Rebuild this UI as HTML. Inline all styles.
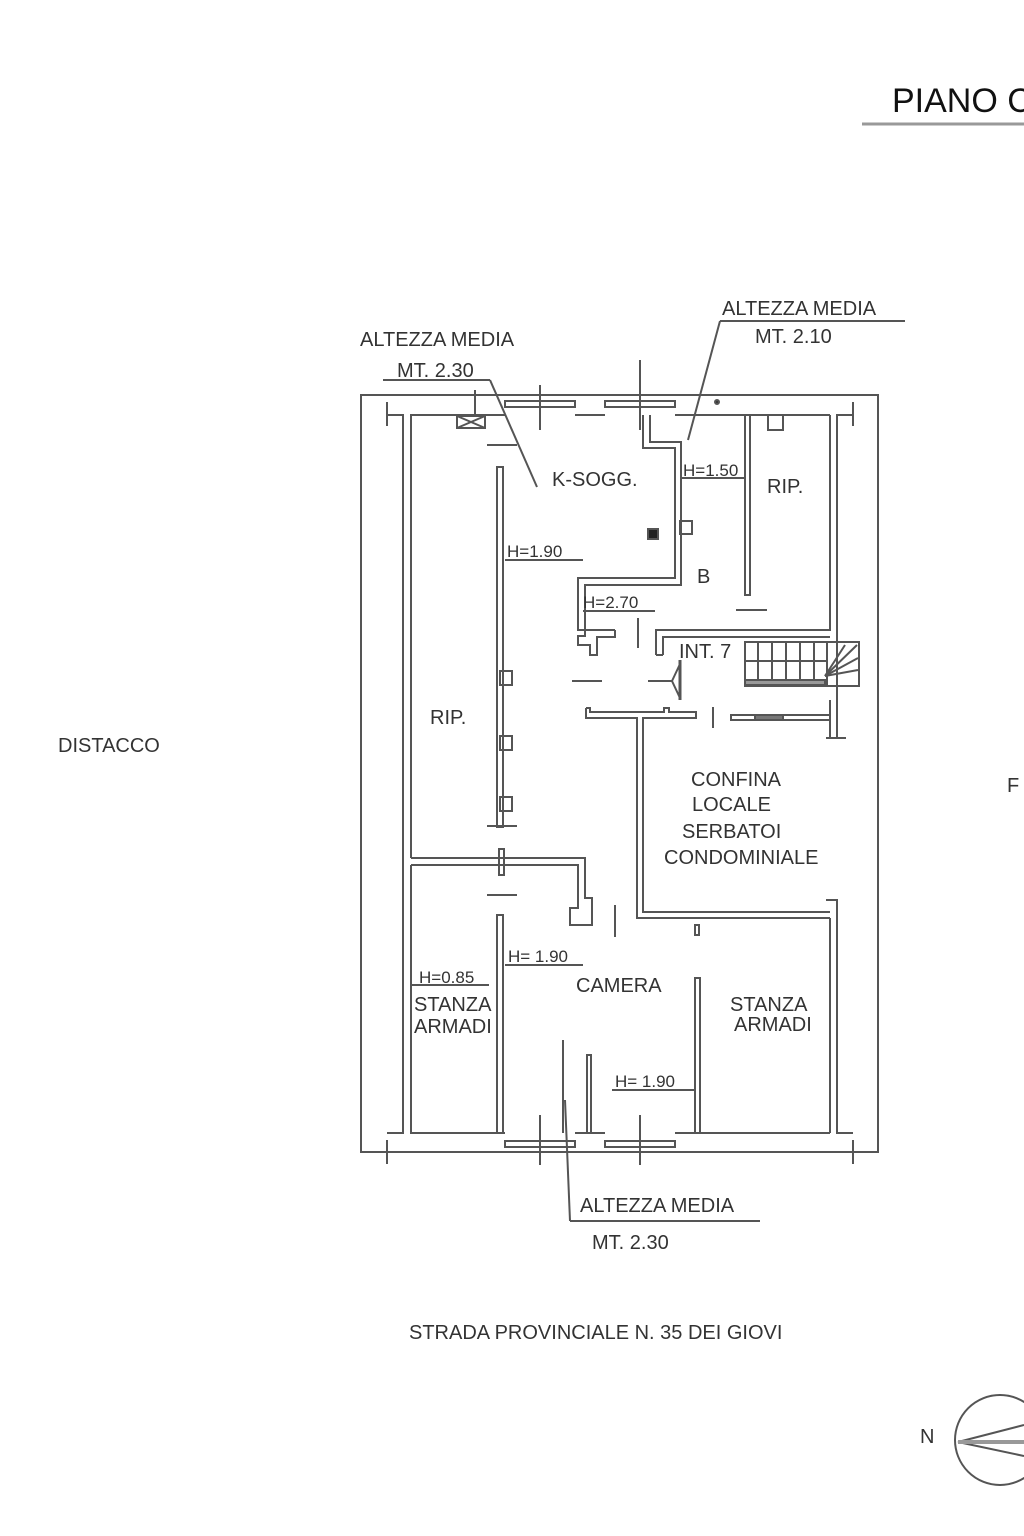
<!DOCTYPE html>
<html><head><meta charset="utf-8"><style>
html,body{margin:0;padding:0;background:#fff;}
svg{display:block}
text{font-family:"Liberation Sans",sans-serif;fill:#333;}
</style></head><body>
<svg width="1024" height="1536" viewBox="0 0 1024 1536" xmlns="http://www.w3.org/2000/svg">
<rect width="1024" height="1536" fill="#fff"/>
<text x="892" y="112" font-size="34" style="fill:#111">PIANO C</text>
<line x1="862" y1="124" x2="1024" y2="124" stroke="#999" stroke-width="3"/>

<g stroke="#555" stroke-width="2" fill="none">
<rect x="361" y="395" width="517" height="757"/>
<polyline points="387,415 403,415 403,1133 387,1133"/>
<line x1="387" y1="402" x2="387" y2="426"/>
<line x1="853" y1="402" x2="853" y2="426"/>
<line x1="387" y1="1140" x2="387" y2="1164"/>
<line x1="853" y1="1140" x2="853" y2="1164"/>
<polyline points="853,415 837,415 837,738"/>
<line x1="826" y1="738" x2="846" y2="738"/>
<polyline points="853,1133 837,1133 837,900 826,900"/>
<polyline points="411,858 411,415 505,415"/>
<line x1="575" y1="415" x2="605" y2="415"/>
<line x1="675" y1="415" x2="745" y2="415"/>
<line x1="750" y1="415" x2="830" y2="415"/>
<line x1="830" y1="415" x2="830" y2="631"/>
<polyline points="411,865 411,1133 496,1133"/>
<line x1="503" y1="1133" x2="505" y2="1133"/>
<line x1="575" y1="1133" x2="605" y2="1133"/>
<line x1="675" y1="1133" x2="695" y2="1133"/>
<line x1="700" y1="1133" x2="830" y2="1133"/>
<rect x="505" y="401" width="70" height="6"/>
<rect x="605" y="401" width="70" height="6"/>
<rect x="505" y="1141" width="70" height="6"/>
<rect x="605" y="1141" width="70" height="6"/>
<line x1="540" y1="385" x2="540" y2="430"/>
<line x1="640" y1="360" x2="640" y2="430"/>
<line x1="540" y1="1115" x2="540" y2="1165"/>
<line x1="640" y1="1115" x2="640" y2="1165"/>
<rect x="457" y="416" width="28" height="12"/>
<line x1="457" y1="416" x2="485" y2="428"/><line x1="457" y1="428" x2="485" y2="416"/>
<line x1="475" y1="390" x2="475" y2="416"/>
<rect x="497" y="467" width="6" height="360"/>
<rect x="499" y="849" width="5" height="26"/>
<rect x="497" y="915" width="6" height="218"/>
<line x1="487" y1="826" x2="517" y2="826"/>
<line x1="487" y1="895" x2="517" y2="895"/>
<rect x="500" y="671" width="12" height="14"/>
<rect x="500" y="736" width="12" height="14"/>
<rect x="500" y="797" width="12" height="14"/>
<line x1="487" y1="445" x2="517" y2="445"/>
<polyline points="411,858 585,858 585,898 592,898 592,925 570,925 570,908 578,908 578,865 411,865"/>
<polyline points="643,415 643,448 675,448 675,578 578,578 578,630 615,630"/>
<polyline points="650,415 650,442 681,442 681,585 585,585 585,636 578,636 578,645 590,645 590,655 597,655 597,637 615,637 615,630"/>
<line x1="638" y1="618" x2="638" y2="648"/>
<rect x="745" y="415" width="5" height="180"/>
<line x1="736" y1="610" x2="767" y2="610"/>
<polyline points="768,415 768,430 783,430 783,415"/>
<polyline points="656,655 656,630 830,630"/>
<polyline points="663,655 663,637 830,637"/>
<line x1="656" y1="655" x2="663" y2="655"/>
<line x1="572" y1="681" x2="602" y2="681"/>
<line x1="648" y1="681" x2="672" y2="681"/>
<path d="M672,681 L680,664 L680,698 Z"/>
<line x1="680" y1="660" x2="680" y2="700" stroke-width="3"/>
<polyline points="586,708 586,718 637,718 637,918 830,918"/>
<polyline points="586,708 590,708 590,712 664,712 664,708 669,708 669,712 696,712 696,718 643,718 643,912 830,912"/>
<line x1="713" y1="707" x2="713" y2="728"/>
<rect x="731" y="715" width="99" height="5"/>
<rect x="755" y="715" width="28" height="5" fill="#777"/>
<line x1="830" y1="700" x2="830" y2="738"/>
<line x1="830" y1="918" x2="830" y2="1133"/>
<rect x="745" y="642" width="82" height="44"/>
<rect x="745" y="680" width="80" height="5" fill="#999"/>
<line x1="745" y1="661" x2="827" y2="661"/>
<line x1="758" y1="642" x2="758" y2="680"/><line x1="772" y1="642" x2="772" y2="680"/>
<line x1="786" y1="642" x2="786" y2="680"/><line x1="800" y1="642" x2="800" y2="680"/>
<line x1="814" y1="642" x2="814" y2="680"/>
<rect x="827" y="642" width="32" height="44"/>
<line x1="825" y1="676" x2="857" y2="645"/><line x1="825" y1="676" x2="858" y2="658"/>
<line x1="825" y1="676" x2="858" y2="670"/><line x1="825" y1="676" x2="845" y2="645"/>
<rect x="695" y="978" width="5" height="155"/>
<rect x="587" y="1055" width="4" height="78"/>
<line x1="563" y1="1040" x2="563" y2="1133"/>
<line x1="615" y1="905" x2="615" y2="937"/>
<rect x="695" y="925" width="4" height="10"/>
<rect x="680" y="521" width="12" height="13"/>
<rect x="648" y="529" width="10" height="10" fill="#222"/>
<circle cx="717" cy="402" r="2" fill="#333"/>
<line x1="383" y1="380" x2="490" y2="380"/>
<line x1="490" y1="380" x2="537" y2="487"/>
<line x1="720" y1="321" x2="905" y2="321"/>
<line x1="720" y1="321" x2="688" y2="440"/>
<line x1="570" y1="1221" x2="760" y2="1221"/>
<line x1="570" y1="1221" x2="565" y2="1100"/>
<line x1="680" y1="478" x2="745" y2="478"/>
<line x1="505" y1="560" x2="583" y2="560"/>
<line x1="583" y1="611" x2="655" y2="611"/>
<line x1="411" y1="985" x2="489" y2="985"/>
<line x1="505" y1="965" x2="583" y2="965"/>
<line x1="612" y1="1090" x2="695" y2="1090"/>
<circle cx="1000" cy="1440" r="45"/>
<line x1="958" y1="1442" x2="1024" y2="1425"/>
<line x1="958" y1="1442" x2="1024" y2="1456"/>
<line x1="958" y1="1442" x2="1024" y2="1442" stroke="#999" stroke-width="4"/>
</g>

<g font-size="20">
<text x="360" y="346">ALTEZZA MEDIA</text>
<text x="397" y="377">MT. 2.30</text>
<text x="722" y="315">ALTEZZA MEDIA</text>
<text x="755" y="343">MT. 2.10</text>
<text x="580" y="1212">ALTEZZA MEDIA</text>
<text x="592" y="1249">MT. 2.30</text>
<text x="552" y="486">K-SOGG.</text>
<text x="767" y="493">RIP.</text>
<text x="697" y="583">B</text>
<text x="679" y="658">INT. 7</text>
<text x="430" y="724">RIP.</text>
<text x="691" y="786">CONFINA</text>
<text x="692" y="811">LOCALE</text>
<text x="682" y="838">SERBATOI</text>
<text x="664" y="864">CONDOMINIALE</text>
<text x="576" y="992">CAMERA</text>
<text x="414" y="1011">STANZA</text>
<text x="414" y="1033">ARMADI</text>
<text x="730" y="1011">STANZA</text>
<text x="734" y="1031">ARMADI</text>
<text x="58" y="752">DISTACCO</text>
<text x="1007" y="792">F</text>
<text x="409" y="1339">STRADA PROVINCIALE N. 35 DEI GIOVI</text>
<text x="920" y="1443">N</text>
</g>
<g font-size="17">
<text x="683" y="476">H=1.50</text>
<text x="507" y="557">H=1.90</text>
<text x="583" y="608">H=2.70</text>
<text x="419" y="983">H=0.85</text>
<text x="508" y="962">H= 1.90</text>
<text x="615" y="1087">H= 1.90</text>
</g>
</svg>
</body></html>
